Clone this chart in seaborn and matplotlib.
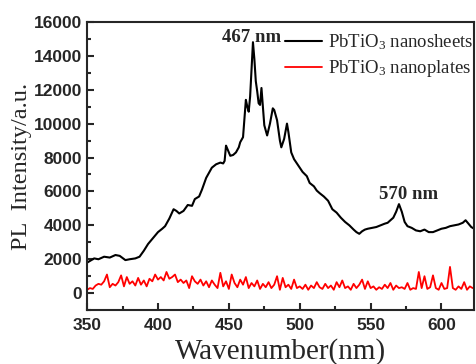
import numpy as np
import pandas as pd
import matplotlib.pyplot as plt
import seaborn as sns
from matplotlib.ticker import MultipleLocator

# PbTiO3 nanosheets (black curve)
sheets_wl = [350, 352, 355, 358, 362, 366, 370, 373, 377, 380, 384, 387, 390, 393, 396,
             400, 403, 405, 408, 411, 413, 415, 418, 421, 424, 426, 429, 431, 434, 436,
             438, 441, 444, 446, 447, 448, 449, 451, 453, 455, 457, 458, 460, 461, 462,
             463, 464, 465, 466, 467, 468, 469, 470, 471, 472, 473, 474, 475, 477, 479,
             481, 482, 484, 486, 487, 489, 491, 492, 494, 496, 498, 500, 502, 505, 507,
             510, 512, 514, 517, 520, 523, 526, 529, 532, 535, 538, 540, 542, 544, 546,
             548, 551, 554, 557, 560, 562, 564, 566, 568, 570, 572, 574, 576, 579, 582,
             585, 588, 591, 594, 597, 600, 603, 606, 609, 612, 615, 617, 619, 621, 623]
sheets_int = [1800, 1900, 2050, 2000, 2150, 2100, 2250, 2200, 1950, 2000, 2050, 2150, 2500, 2900, 3200,
              3600, 3800, 3950, 4400, 4950, 4850, 4700, 4850, 5200, 5150, 5550, 5700, 6100, 6800, 7100,
              7400, 7600, 7700, 7650, 7800, 8700, 8500, 8100, 8150, 8300, 8600, 8900, 9200, 10300, 11400,
              11000, 10700, 11600, 13200, 14800, 13800, 12500, 11900, 11200, 11100, 12100, 11000, 9900, 9300, 10000,
              10900, 10800, 10200, 9000, 8600, 9100, 10000, 9500, 8300, 7900, 7650, 7400, 7150, 6900, 6500,
              6300, 6050, 5900, 5700, 5450, 4950, 4750, 4450, 4200, 4000, 3750, 3600, 3500, 3650, 3750,
              3800, 3850, 3900, 4000, 4100, 4150, 4300, 4450, 4800, 5250, 4800, 4200, 3950, 3850, 3700,
              3650, 3750, 3600, 3600, 3700, 3800, 3850, 3950, 4000, 4050, 4150, 4300, 4100, 3900, 3800]

# PbTiO3 nanoplates (red curve), every 2 nm from 350 to 622
plates_wl = list(range(350, 624, 2))
plates_int = [200, 300, 250, 450, 550, 500, 700, 1100, 350, 550, 450, 650, 1050, 400, 950, 550,
              700, 450, 900, 500, 750, 400, 850, 700, 1100, 800, 950, 750, 1250, 850, 950, 1100,
              650, 800, 600, 750, 300, 1000, 700, 550, 800, 450, 700, 350, 750, 500, 300, 1200,
              400, 700, 250, 1100, 600, 350, 800, 500, 950, 300, 600, 400, 750, 250, 550, 350,
              650, 300, 500, 1000, 200, 900, 350, 500, 250, 800, 300, 400, 250, 500, 200, 450,
              300, 650, 350, 250, 550, 300, 450, 200, 650, 350, 750, 300, 400, 200, 550, 300,
              500, 800, 250, 700, 300, 400, 200, 350, 250, 500, 300, 600, 200, 450, 300, 350,
              250, 600, 200, 300, 250, 1250, 300, 1000, 250, 350, 1050, 300, 200, 600, 250, 300,
              1550, 300, 200, 400, 250, 650, 200, 400, 300]

# peak annotations
peak_labels = ['467 nm', '570 nm']
peak_x = [466, 577]
peak_y = [15050, 5800]

sheets = pd.DataFrame({'wl': sheets_wl, 'I': sheets_int})
plates = pd.DataFrame({'wl': plates_wl, 'I': plates_int})

sns.set_style('ticks')
plt.rcParams['mathtext.fontset'] = 'custom'
plt.rcParams['mathtext.rm'] = 'Liberation Serif'
plt.rcParams['mathtext.it'] = 'Liberation Serif:italic'

fig = plt.figure(figsize=(4.76, 3.64), dpi=100)
ax = fig.add_axes([0.183, 0.148, 0.813, 0.792])

sns.lineplot(data=sheets, x='wl', y='I', color='black', linewidth=1.5,
             label='PbTiO$_3$ nanosheets', ax=ax)
sns.lineplot(data=plates, x='wl', y='I', color='#ff0000', linewidth=1.3,
             label='PbTiO$_3$ nanoplates', ax=ax)

ax.set_xlim(350, 623)
ax.set_ylim(-1000, 16000)
ax.xaxis.set_major_locator(MultipleLocator(50))
ax.xaxis.set_minor_locator(MultipleLocator(25))
ax.yaxis.set_major_locator(MultipleLocator(2000))
ax.yaxis.set_minor_locator(MultipleLocator(1000))
ax.tick_params(which='both', direction='in', top=False, right=False, width=1.5)
ax.tick_params(which='major', length=5)
ax.tick_params(which='minor', length=3)
ax.tick_params(axis='x', pad=6)
for lab in ax.get_xticklabels() + ax.get_yticklabels():
    lab.set_fontfamily('Liberation Sans')
    lab.set_fontweight('bold')
    lab.set_fontsize(12.5)
for s in ax.spines.values():
    s.set_visible(True)
    s.set_linewidth(1.5)

ax.set_xlabel('Wavenumber(nm)', fontfamily='Liberation Serif', fontsize=21, labelpad=3)
ax.set_ylabel('PL  Intensity/a.u.', fontfamily='Liberation Serif', fontsize=17.5, labelpad=1)

for t, x, y in zip(peak_labels, peak_x, peak_y):
    ax.text(x, y, t, fontfamily='Liberation Serif', fontweight='bold',
            fontsize=13.5, ha='center', va='center')

ax.legend(loc='upper right', bbox_to_anchor=(1.025, 1.0), frameon=False,
          prop={'family': 'Liberation Serif', 'size': 13.5}, handlelength=2.0,
          handletextpad=0.3, labelspacing=0.35, borderaxespad=0.15)

fig.savefig('out.png', dpi=100)
